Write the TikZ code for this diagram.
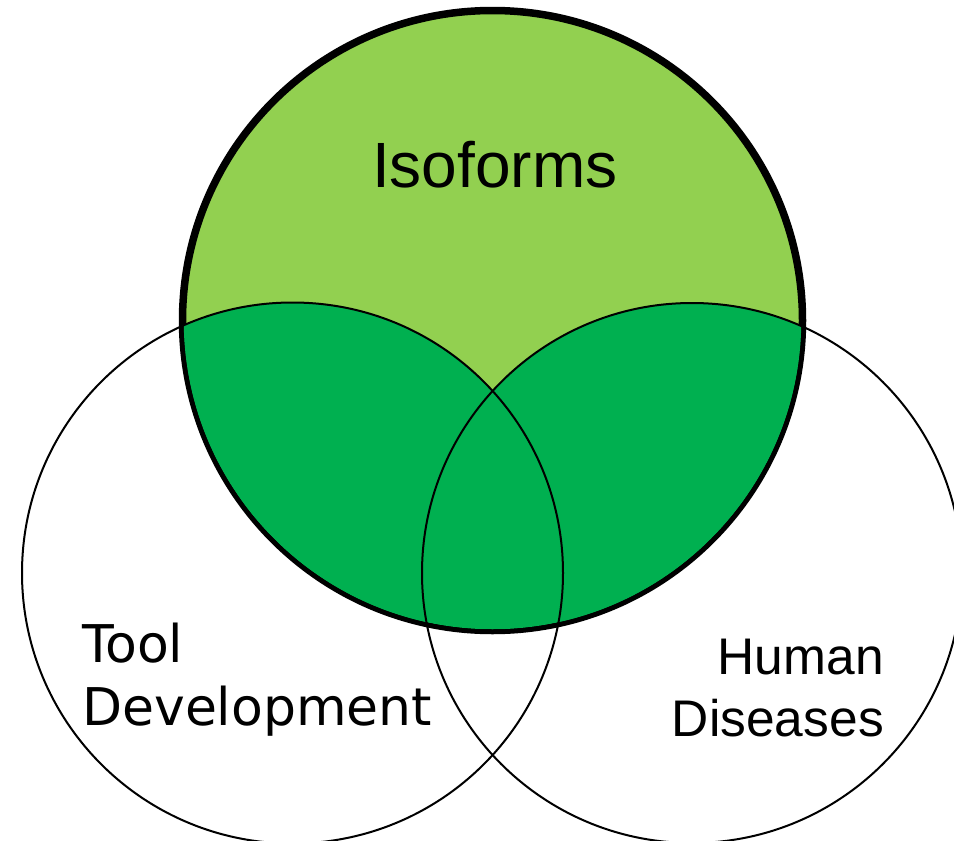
\documentclass[tikz,border=0pt]{standalone}
\usepackage{fontspec}
\newfontfamily\dejavu{DejaVu Sans}
\newfontfamily\helv{Liberation Sans}
\definecolor{lightgr}{HTML}{92D050}
\definecolor{darkgr}{HTML}{00B050}
\tikzset{
  setcircle/.style={draw=black, line width=2pt},
  topcircle/.style={draw=black, line width=7.5pt, fill=lightgr},
  lensborder/.style={draw=black, line width=2pt},
  label/.style={inner sep=0pt, text=black}
}
\begin{document}
\begin{tikzpicture}[x=1pt,y=-1pt]
\useasboundingbox (0,0) rectangle (954,841);
\coordinate (T) at (492.5,320.5);
\coordinate (L) at (292.5,573);
\coordinate (R) at (692,573);
% outer circles
\draw[setcircle] (L) circle[radius=270.5];
\draw[setcircle] (R) circle[radius=270];
% top circle
\draw[topcircle] (T) circle[radius=310];
% lenses
\begin{scope}
  \clip (T) circle[radius=310];
  \fill[darkgr] (L) circle[radius=270.5];
  \fill[darkgr] (R) circle[radius=270];
  \draw[lensborder] (L) circle[radius=270.5];
  \draw[lensborder] (R) circle[radius=270];
\end{scope}
\begin{scope}
  \clip (L) circle[radius=270.5] (R) circle[radius=270];
  \draw[lensborder] (T) circle[radius=310];
\end{scope}
\begin{scope}
  \clip (R) circle[radius=270];
  \draw[lensborder] (T) circle[radius=310];
\end{scope}
\begin{scope}
  \clip (L) circle[radius=270.5];
  \draw[lensborder] (T) circle[radius=310];
\end{scope}
% labels
\node[label, anchor=base west, font=\helv\fontsize{64}{64}\selectfont] (iso) at (372,187) {Isoforms};
\node[label, anchor=base west, font=\dejavu\fontsize{52}{63}\selectfont] (tool1) at (82,662) {Tool};
\node[label, anchor=base west, font=\dejavu\fontsize{52}{63}\selectfont] (tool2) at (82,725) {Development};
\node[label, anchor=base east, font=\helv\fontsize{51.5}{62}\selectfont] (hum1) at (884,674) {Human};
\node[label, anchor=base east, font=\helv\fontsize{51.5}{62}\selectfont] (hum2) at (884,736) {Diseases};
\end{tikzpicture}
\end{document}
